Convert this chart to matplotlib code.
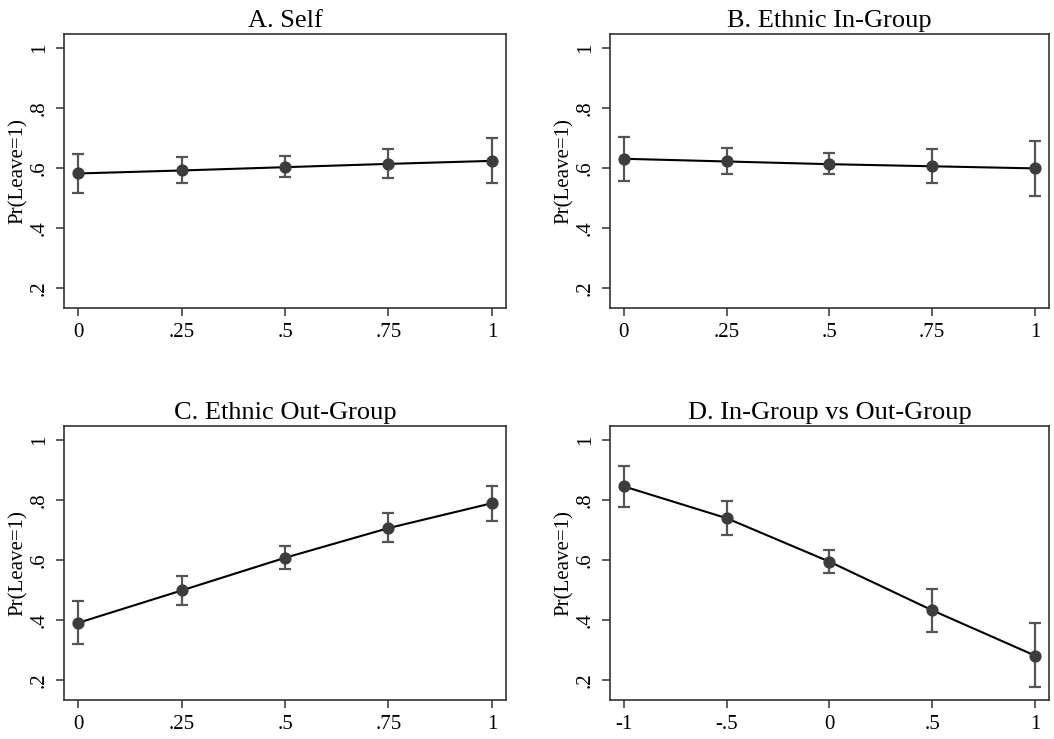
import matplotlib
matplotlib.use("Agg")
import matplotlib.pyplot as plt

# ------------------------------
# Data
# ------------------------------
titles = ["A. Self", "B. Ethnic In-Group", "C. Ethnic Out-Group", "D. In-Group vs Out-Group"]

x_share = [0, 0.25, 0.5, 0.75, 1]
x_share_labels = ["0", ".25", ".5", ".75", "1"]
x_diff = [-1, -0.5, 0, 0.5, 1]
x_diff_labels = ["-1", "-.5", "0", ".5", "1"]

self_est = [0.582, 0.592, 0.603, 0.614, 0.624]
self_lo = [0.518, 0.551, 0.569, 0.566, 0.551]
self_hi = [0.648, 0.637, 0.639, 0.663, 0.700]

ingroup_est = [0.631, 0.622, 0.613, 0.606, 0.599]
ingroup_lo = [0.556, 0.579, 0.580, 0.549, 0.506]
ingroup_hi = [0.704, 0.668, 0.650, 0.665, 0.691]

outgroup_est = [0.390, 0.498, 0.607, 0.706, 0.789]
outgroup_lo = [0.321, 0.451, 0.568, 0.658, 0.729]
outgroup_hi = [0.462, 0.546, 0.647, 0.755, 0.848]

diff_est = [0.845, 0.739, 0.594, 0.432, 0.281]
diff_lo = [0.777, 0.682, 0.557, 0.361, 0.177]
diff_hi = [0.913, 0.798, 0.634, 0.504, 0.388]

y_ticks = [0.2, 0.4, 0.6, 0.8, 1.0]
y_tick_labels = [".2", ".4", ".6", ".8", "1"]

plt.rcParams["font.family"] = ["Liberation Serif", "DejaVu Serif"]


def draw_panel(ax, title, x, xlabels, est, lo, hi):
    err = [[e - l for e, l in zip(est, lo)], [h - e for e, h in zip(est, hi)]]
    ax.errorbar(x, est, yerr=err, fmt="none", ecolor="#555555",
                elinewidth=1.6, capsize=4.5, capthick=1.6, zorder=2)
    ax.plot(x, est, color="black", lw=1.5, zorder=3)
    ax.plot(x, est, "o", color="#3c3c3c", ms=7.8, zorder=4)
    ax.set_title(title, fontsize=19, pad=5)
    ax.set_xlim(x[0] - 0.034 * (x[-1] - x[0]), x[-1] + 0.034 * (x[-1] - x[0]))
    ax.set_ylim(0.133, 1.047)
    ax.set_xticks(x)
    ax.set_xticklabels(xlabels, fontsize=15)
    ax.set_yticks(y_ticks)
    ax.set_yticklabels(y_tick_labels, fontsize=15, rotation=90, va="center")
    ax.set_ylabel("Pr(Leave=1)", fontsize=15, labelpad=1)
    ax.tick_params(direction="out", length=6, width=1.1, color="#333333", pad=5)
    for sp in ax.spines.values():
        sp.set_color("#333333")
        sp.set_linewidth(1.2)


def main():
    fig = plt.figure(figsize=(10.54, 7.39), dpi=100)
    w_l, w_r, h = 0.4194, 0.4165, 0.371
    axes = [
        fig.add_axes([0.0607, 0.583, w_l, h]),
        fig.add_axes([0.5787, 0.583, w_r, h]),
        fig.add_axes([0.0607, 0.0528, w_l, h]),
        fig.add_axes([0.5787, 0.0528, w_r, h]),
    ]
    draw_panel(axes[0], titles[0], x_share, x_share_labels, self_est, self_lo, self_hi)
    draw_panel(axes[1], titles[1], x_share, x_share_labels, ingroup_est, ingroup_lo, ingroup_hi)
    draw_panel(axes[2], titles[2], x_share, x_share_labels, outgroup_est, outgroup_lo, outgroup_hi)
    draw_panel(axes[3], titles[3], x_diff, x_diff_labels, diff_est, diff_lo, diff_hi)
    fig.savefig("out.png", dpi=100, facecolor="white")


if __name__ == "__main__":
    main()
